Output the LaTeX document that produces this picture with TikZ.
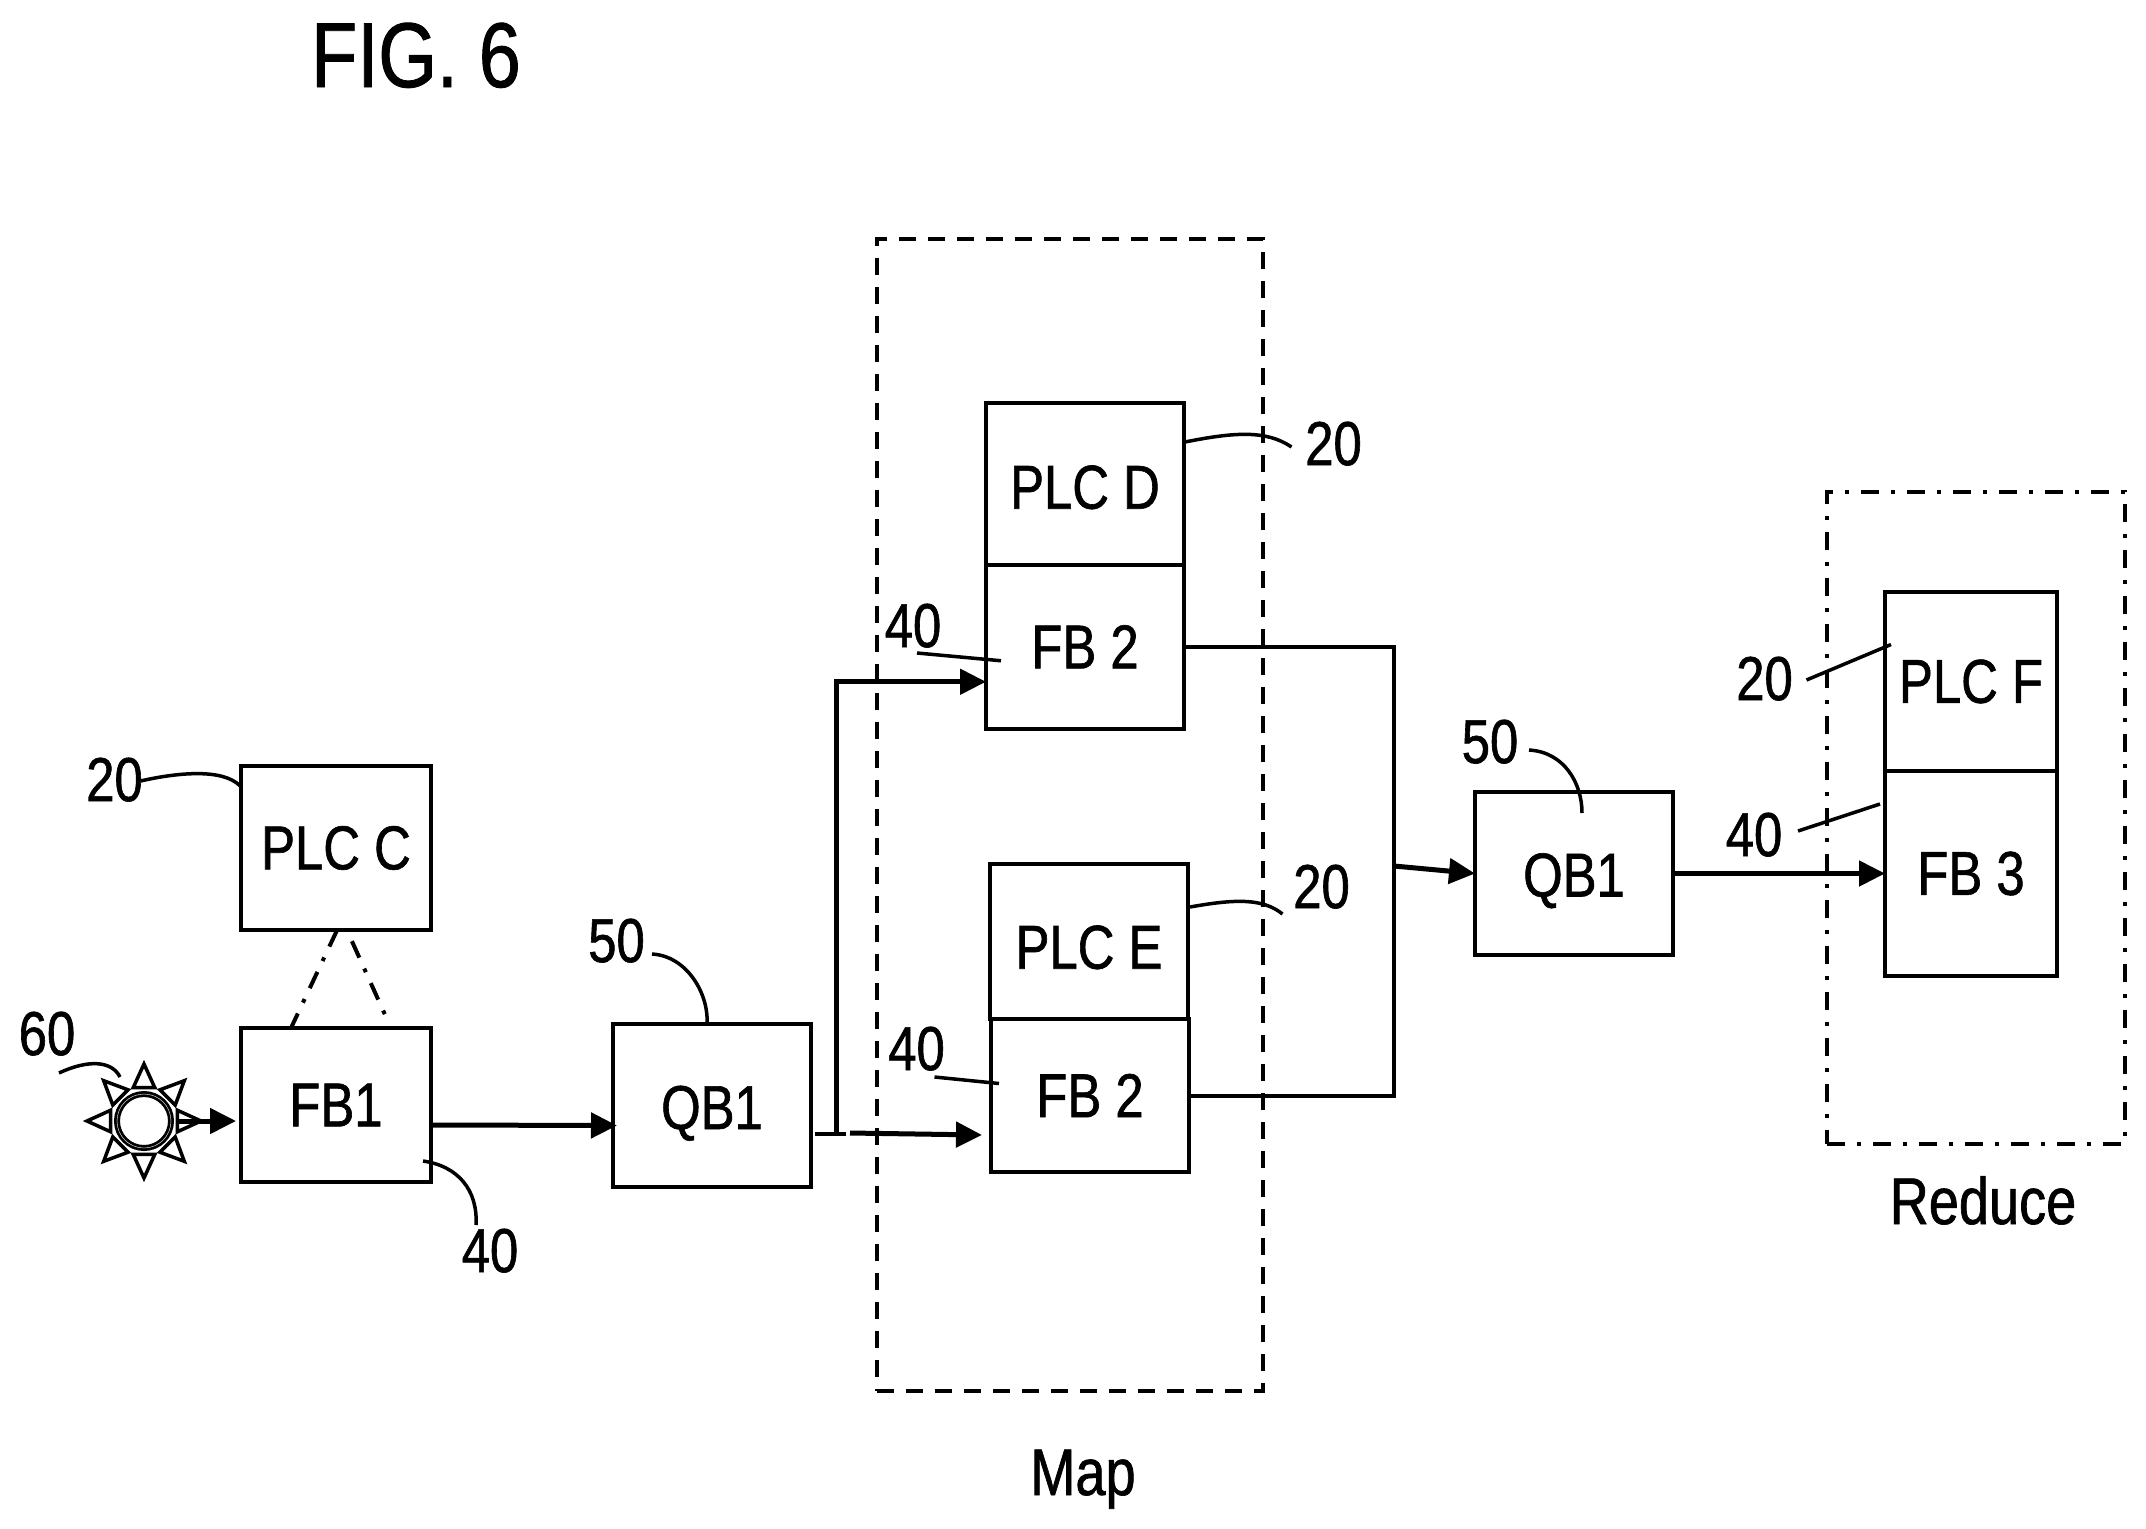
\documentclass[tikz,border=0pt]{standalone}
\usepackage{fontspec}
\setmainfont[FakeStretch=0.82,FakeBold=1]{Liberation Sans}
\usetikzlibrary{arrows.meta,positioning,backgrounds}

\begin{document}
\begin{tikzpicture}[
    x=1pt, y=-1pt,
    >={Triangle[length=26pt,width=25pt]},
    line width=4pt,
    blk/.style 2 args={rectangle, draw, line width=4pt, inner sep=0pt, outer sep=0pt, minimum width=#1pt, minimum height=#2pt, align=center, font=\fontsize{62}{62}\selectfont},
    num/.style={anchor=base, inner sep=0pt, font=\fontsize{62}{62}\selectfont},
    title/.style={anchor=base, inner sep=0pt, font=\fontsize{66}{66}\selectfont},
    arrow/.style={->, line width=5pt},
    dashdot/.style={dash pattern=on 18pt off 12pt on 4pt off 12pt},
    leader/.style={line width=3.5pt}
]
\useasboundingbox (0,0) rectangle (2146,1528);

% Title
\node[anchor=base, inner sep=0pt, font=\fontsize{92}{92}\selectfont] (fig) at (416,87) {FIG. 6};

% Source
\node[circle, draw, double, double distance=0.4pt, line width=2.8pt, minimum size=54pt, inner sep=0pt] (sun) at (144,1121) {};
\foreach \a in {0,45,...,315}
    \draw[line width=3.5pt] ([shift={(\a+18:35)}]sun.center) -- ([shift={(\a:57)}]sun.center) -- ([shift={(\a-18:35)}]sun.center) -- cycle;

% First stage
\node[blk={190}{164.5}] (plcc) at (336,848) {PLC C};
\node[blk={190}{154}] (fb1) at (336,1105) {FB1};
\node[blk={198}{163}, text height=47pt, text depth=0pt] (qb1a) at (712,1105.5) {QB1};

% Map
\node[blk={198}{161.5}, text height=50pt] (plcd) at (1085,484) {PLC D};
\node[blk={198}{164}, below=0pt of plcd] (fb2a) {FB 2};
\node[blk={198}{155}, text height=55pt] (plce) at (1089,941.5) {PLC E};
\node[blk={198}{153}] (fb2b) at (1090,1095.5) {FB 2};

% Reduce
\node[blk={198}{163}, text height=46pt, text depth=0pt] (qb1b) at (1574,873.5) {QB1};
\node[blk={172}{179}] (plcf) at (1971,681.5) {PLC F};
\node[blk={172}{205}, below=0pt of plcf] (fb3) {FB 3};

% Background grouping
\begin{scope}[on background layer]
    \node[blk={386}{1152}, line width=4.5pt, dash pattern=on 17pt off 12pt] (mapgrp) at (1070,815) {};
    \node[blk={298}{652}, line width=4pt, dashdot] (redgrp) at (1976,818) {};
\end{scope}
\node[title] (maplbl) at (1083,1495) {Map};
\node[title] (redlbl) at (1983,1224) {Reduce};

% Reference numbers
\node[num] (n20c) at (114.5,801) {20};
\node[num] (n60) at (47,1055) {60};
\node[num] (n40a) at (490,1272) {40};
\node[num] (n50a) at (616.5,962) {50};
\node[num] (n40b) at (913,647) {40};
\node[num] (n20d) at (1333.5,465) {20};
\node[num] (n40c) at (916.5,1070) {40};
\node[num] (n20e) at (1321.5,908) {20};
\node[num] (n50b) at (1490,763) {50};
\node[num] (n20f) at (1764.5,700) {20};
\node[num] (n40d) at (1754,856) {40};

% Junctions
\coordinate (split) at (836,1134);
\coordinate (stubin) at (815,1134);
\coordinate (stubout) at (846,1134);
\coordinate (lowstart) at (850,1133);
\coordinate (bus) at (1394,866);

% Main flow arrows
\draw[arrow] ([xshift=34pt]sun.center) -- (sun.center -| fb1.west) [shorten >=5pt];
\draw[arrow] ([yshift=-20pt]fb1.east) -- ([xshift=4pt,yshift=-20pt]qb1a.west);
\draw (stubin) -- (stubout);
\draw[arrow] (split) |- ([yshift=-35pt]fb2a.west);
\draw[arrow] (lowstart) -- ([xshift=-9pt,yshift=-39.5pt]fb2b.west);
\draw (fb2a.east) -| (bus) |- (fb2b.east);
\draw[arrow] (bus) -- (qb1b.west);
\draw[arrow] (qb1b.east) -- (fb3.west |- qb1b.east);

% Link between PLC and function block
\draw[dashdot] ([xshift=1pt]plcc.south) -- ([xshift=-45pt]fb1.north);
\draw[dash pattern=on 18pt off 12pt on 4pt off 12pt, dash phase=34pt, shorten >=12pt] ([xshift=11pt]plcc.south) -- ([xshift=55pt]fb1.north);

% Leader lines
\draw[leader] ([shift={(26,-20)}]n20c.base) .. controls +(35,-8) and +(-18,-18) .. ([shift={(-1,20)}]plcc.north west);
\draw[leader] ([shift={(12,18)}]n60.base) .. controls +(30,-14) and +(-8,-16) .. ([shift={(-24,-44)}]sun.center);
\draw[leader] ([shift={(-8,56)}]fb1.east) .. controls +(35,5) and +(2,-35) .. ([shift={(-14,-47)}]n40a.base);
\draw[leader] ([shift={(35.5,-8)}]n50a.base) .. controls +(35,2) and +(2,-30) .. ([xshift=-5pt]qb1a.north);
\draw[leader] ([shift={(4,6)}]n40b.base) -- ([shift={(15,14)}]fb2a.west);
\draw[leader] ([shift={(1,-42)}]plcd.east) .. controls +(50,-10) and +(-25,-17) .. ([shift={(-42,-18)}]n20d.base);
\draw[leader] ([shift={(2,-34.5)}]plce.east) .. controls +(45,-8) and +(-20,-16) .. ([shift={(-39,6)}]n20e.base);
\draw[leader] ([shift={(18,7)}]n40c.base) -- ([shift={(8,-12)}]fb2b.west);
\draw[leader] ([shift={(39,-13)}]n50b.base) .. controls +(35,2) and +(0,-30) .. ([shift={(8,21)}]qb1b.north);
\draw[leader] ([shift={(42,-20)}]n20f.base) -- ([shift={(6,-37)}]plcf.west);
\draw[leader] ([shift={(44,-25)}]n40d.base) -- ([shift={(-5,-69.5)}]fb3.west);

\end{tikzpicture}
\end{document}
